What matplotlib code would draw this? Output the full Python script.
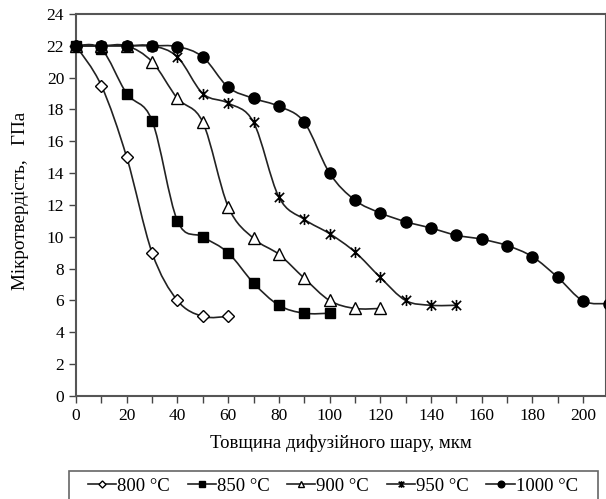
import matplotlib
matplotlib.use("Agg")
import matplotlib.pyplot as plt
from matplotlib.path import Path
from matplotlib.patches import PathPatch, Rectangle
from matplotlib.lines import Line2D
import numpy as np

plt.rcParams['font.family'] = ['Liberation Serif', 'DejaVu Serif']

labels = ['800 °C', '850 °C', '900 °C', '950 °C', '1000 °C']
x800 = [0, 10, 20, 30, 40, 50, 60]
y800 = [22, 19.5, 15, 9, 6, 5, 5]
x850 = [0, 10, 20, 30, 40, 50, 60, 70, 80, 90, 100]
y850 = [22, 21.8, 19, 17.3, 11, 10, 9, 7.1, 5.7, 5.2, 5.2]
x900 = [0, 10, 20, 30, 40, 50, 60, 70, 80, 90, 100, 110, 120]
y900 = [22, 22, 22, 21, 18.7, 17.2, 11.9, 9.9, 8.9, 7.4, 6, 5.5, 5.5]
x950 = [0, 10, 20, 30, 40, 50, 60, 70, 80, 90, 100, 110, 120, 130, 140, 150]
y950 = [22, 22, 22, 22, 21.3, 19, 18.4, 17.2, 12.5, 11.1, 10.2, 9.05, 7.45, 6, 5.7, 5.7]
x1000 = [0, 10, 20, 30, 40, 50, 60, 70, 80, 90, 100, 110, 120, 130, 140, 150,
         160, 170, 180, 190, 200, 210]
y1000 = [22, 22, 22, 22, 21.95, 21.3, 19.4, 18.7, 18.2, 17.2, 14, 12.3, 11.5, 10.95,
         10.55, 10.1, 9.85, 9.45, 8.75, 7.45, 5.97, 5.8]

# asterisk-like marker (x with vertical bar)
star_path = Path([(-1, -1), (1, 1), (-1, 1), (1, -1), (0, -1.2), (0, 1.2)],
                 [Path.MOVETO, Path.LINETO, Path.MOVETO, Path.LINETO, Path.MOVETO, Path.LINETO])

styles = [
    dict(marker='D', ms=6, mfc='white', mec='black', mew=1.0),
    dict(marker='s', ms=6.5, mfc='black', mec='black', mew=1.0),
    dict(marker='^', ms=8, mfc='white', mec='black', mew=1.0),
    dict(marker=star_path, ms=8, mfc='none', mec='black', mew=1.2),
    dict(marker='o', ms=8, mfc='black', mec='black', mew=1.0),
]

fig = plt.figure(figsize=(6.06, 4.99), dpi=100)
ax = fig.add_axes([0.1254, 0.2064, 0.8746, 0.7656])


def smooth_path(xs, ys):
    pts = np.column_stack([xs, ys]).astype(float)
    n = len(pts)
    verts = [pts[0]]
    codes = [Path.MOVETO]
    for i in range(n - 1):
        p0 = pts[i - 1] if i > 0 else pts[i]
        p1 = pts[i]
        p2 = pts[i + 1]
        p3 = pts[i + 2] if i + 2 < n else pts[i + 1]
        c1 = p1 + (p2 - p0) / 6.0
        c2 = p2 - (p3 - p1) / 6.0
        verts += [c1, c2, p2]
        codes += [Path.CURVE4] * 3
    return Path(verts, codes)


series = [(x800, y800), (x850, y850), (x900, y900), (x950, y950), (x1000, y1000)]
handles = []
for (xs, ys), st, lab in zip(series, styles, labels):
    patch = PathPatch(smooth_path(xs, ys), facecolor='none', edgecolor='#222222',
                      lw=1.2, transform=ax.transData, zorder=2)
    ax.add_patch(patch)
    ax.plot(xs, ys, linestyle='none', zorder=3, clip_on=False, **st)
    hst = dict(st)
    hst['ms'] = st['ms'] * 0.6
    handles.append(Line2D([], [], color='#222222', lw=1.2, label=lab, **hst))

ax.set_xlim(0, 209)
ax.set_ylim(0, 24)
ax.set_xticks(np.arange(0, 201, 20))
ax.set_xticks(np.arange(10, 210, 20), minor=True)
ax.set_yticks(np.arange(0, 25, 2))
ax.tick_params(axis='both', which='both', direction='out', length=5, width=1.0,
               color='#444444', labelsize=12.5)
for sp in ax.spines.values():
    sp.set_color('#555555')
    sp.set_linewidth(1.5)

ax.set_xlabel('Товщина дифузійного шару, мкм', fontsize=13.5, labelpad=8)
ax.set_ylabel('Мікротвердість,   ГПа', fontsize=13.8)
ax.yaxis.set_label_coords(-0.089, 0.51)

# legend box
fig.patches.append(Rectangle((0.1139, -0.05), 0.873, 0.05 + 0.0561,
                             transform=fig.transFigure, facecolor='white',
                             edgecolor='#666666', lw=1.2, zorder=1))

leg = fig.legend(handles=handles, loc='center left',
                 bbox_to_anchor=(0.1452, 0.026),
                 ncol=5, fontsize=13.5, frameon=False,
                 handlelength=1.5, handletextpad=0.05,
                 columnspacing=0.95, borderaxespad=0.0, borderpad=0.0)

fig.savefig('out.png', dpi=100)
